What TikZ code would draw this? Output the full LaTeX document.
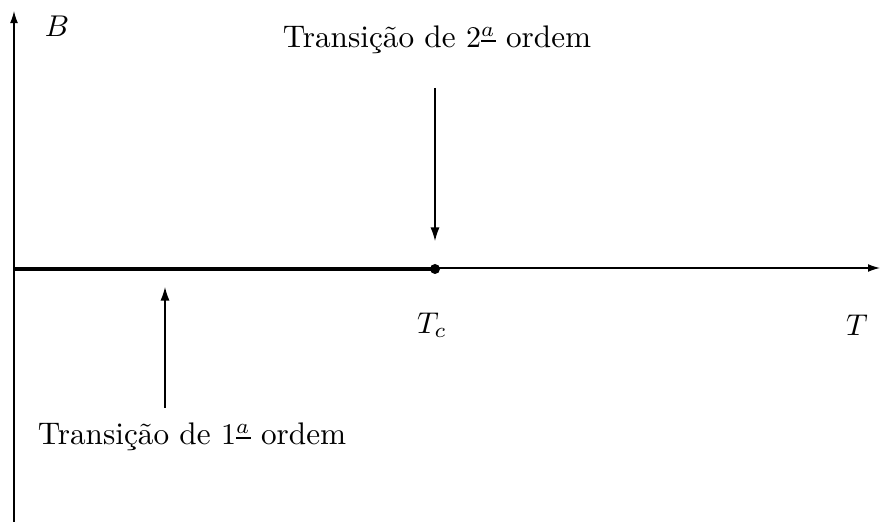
\documentclass[tikz,border=0pt]{standalone}
\usepackage{tikz}
\usetikzlibrary{arrows.meta,positioning}
\tikzset{
  axis/.style={line width=0.4pt,-{Latex[length=4pt,width=2.6pt]}},
  pointer/.style={line width=0.4pt,-{Latex[length=4.5pt,width=3pt]}},
  firstorder/.style={line width=1.3pt},
  lbl/.style={inner sep=0pt,font=\fontsize{10.4}{12}\selectfont}
}
\begin{document}
\begin{tikzpicture}[x=0.333pt,y=-0.333pt]
  \useasboundingbox (0,0) rectangle (881,522);
  % axes
  \coordinate (ybot) at (14,522);
  \coordinate (ytop) at (14,11);
  \coordinate (xleft) at (14,268);
  \coordinate (xright) at (880,268);
  \draw[axis] (ybot) -- (ytop);
  \draw[axis] (xleft) -- (xright);
  \node[lbl] (B) at (57,26) {$B$};
  \node[lbl] (T) at (857,325) {$T$};
  % line of first order transitions ending at the critical point
  \coordinate (start) at (14,269);
  \coordinate (crit) at (435,269);
  \draw[firstorder] (start) -- (crit);
  \fill (crit) circle (5);
  \node[lbl] (Tc) at (432,325) {$T_c$};
  % labels with pointers
  \node[lbl] (second) at (437,40) {Transição de $2^{\underline{a}}$ ordem};
  \coordinate (s1) at (435,88);
  \coordinate (s2) at (435,241);
  \draw[pointer] (s1) -- (s2);
  \node[lbl] (first) at (192,437) {Transição de $1^{\underline{a}}$ ordem};
  \coordinate (f1) at (165,408);
  \coordinate (f2) at (165,287);
  \draw[pointer] (f1) -- (f2);
\end{tikzpicture}
\end{document}
